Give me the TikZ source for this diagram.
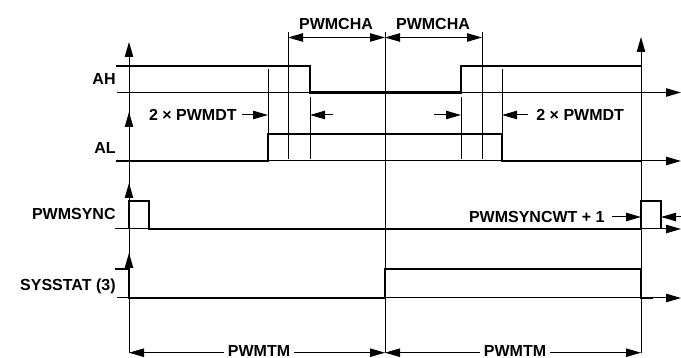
\documentclass[tikz,border=0pt]{standalone}
\usepackage{fontspec}
\setmainfont{Liberation Sans}
\usetikzlibrary{arrows.meta}
\newcommand{\lblfont}{\bfseries\fontsize{8}{9}\selectfont}

\begin{document}
\begin{tikzpicture}[x=.5pt,y=-.5pt,
    >={Triangle[length=7.5pt,width=4.2pt]},
    refline/.style={line width=.5pt},
    wave/.style={line width=1.2pt},
    guide/.style={line width=.5pt},
    dimarrow/.style={line width=.5pt},
    lbl/.style={font=\lblfont, inner sep=1pt}]

\useasboundingbox (0,0) rectangle (681,358);

% axes and reference lines
\draw[refline,->] (129,353) -- (129,42);
\draw[refline,->] (129,161) -- (129,112);
\draw[refline,->] (129,229) -- (129,183);
\draw[refline,->] (129,298) -- (129,253);
\draw[refline,->] (641,353) -- (641,37);
\draw[refline,->] (117,92.5) -- (681,92.5);
\draw[refline,->] (117,161) -- (681,161);
\draw[refline,->] (115,229) -- (681,229);
\draw[refline,->] (117,298) -- (681,298);

% guides
\draw[guide]
(268,69) -- (268,134)
(288,32) -- (288,159)
(310,97) -- (310,159)
(385,32) -- (385,353)
(461,97) -- (461,159)
(482,32) -- (482,159)
(502,69) -- (502,134);

% waveforms
\draw[wave] (116,66) -- (310,66) -- (310,92.5) -- (461,92.5) -- (461,66) -- (641,66);
\draw[wave] (116,161) -- (268,161) -- (268,134) -- (502,134) -- (502,161) -- (641,161);
\draw[wave] (129,229) -- (129,201) -- (149,201) -- (149,229) -- (641,229)
  -- (641,201) -- (661,201) -- (661,229);
\draw[wave] (115,269) -- (129,269) -- (129,298) -- (385,298) -- (385,269)
  -- (641,269) -- (641,298) -- (653,298);

% signal names
\node[lbl, anchor=east] (ah) at (118,79) {AH};
\node[lbl, anchor=east] (al) at (118,148) {AL};
\node[lbl, anchor=east] (sync) at (118,214) {PWMSYNC};
\node[lbl, anchor=east] (stat) at (118,286) {SYSSTAT (3)};

% PWMCHA
\coordinate (chaA) at (288,37.5);
\coordinate (chaB) at (385,37.5);
\coordinate (chaC) at (482,37.5);
\draw[dimarrow,<->] (chaA) -- (chaB);
\draw[dimarrow,<->] (chaB) -- (chaC);
\node[lbl] (cha1) at (336,24) {PWMCHA};
\node[lbl] (cha2) at (433,24) {PWMCHA};

% dead time
\node[lbl, anchor=east] (dt1) at (239,115) {2 × PWMDT};
\node[lbl, anchor=west] (dt2) at (534,115) {2 × PWMDT};
\coordinate (dtA) at (268,115);
\coordinate (dtB) at (310,115);
\coordinate (dtC) at (461,115);
\coordinate (dtD) at (502,115);
\draw[dimarrow,->] (dt1.east) ++(3,0) -- (dtA);
\draw[dimarrow,->] (333,115) -- (dtB);
\draw[dimarrow,->] (434,115) -- (dtC);
\draw[dimarrow,->] (dt2.west) ++(-6,0) -- (dtD);

% sync width
\node[lbl, anchor=east] (sw) at (607,217) {PWMSYNCWT + 1};
\coordinate (swA) at (641,217);
\coordinate (swB) at (661,217);
\draw[dimarrow,->] (sw.east) ++(5,0) -- (swA);
\draw[dimarrow,->] (681,217) -- (swB);

% PWMTM
\coordinate (tmA) at (129,352.7);
\coordinate (tmB) at (385,352.7);
\coordinate (tmC) at (641,352.7);
\draw[dimarrow,<->] (tmA) -- (tmB);
\draw[dimarrow,<->] (tmB) -- (tmC);
\node[lbl, fill=white, inner xsep=2pt, anchor=base] (tm1) at (259,357) {PWMTM};
\node[lbl, fill=white, inner xsep=2pt, anchor=base] (tm2) at (515,357) {PWMTM};

\end{tikzpicture}
\end{document}
